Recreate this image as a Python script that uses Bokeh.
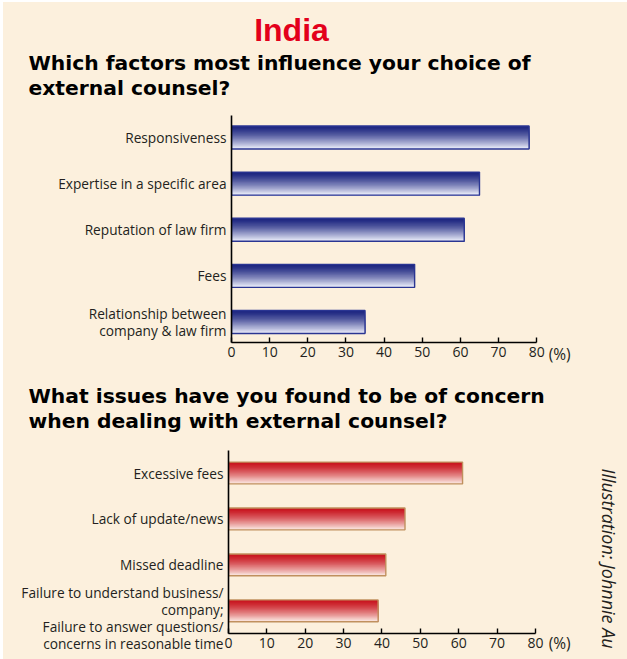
import math
from bokeh.plotting import figure
from bokeh.models import ColumnDataSource, Label, FixedTicker, Range1d, LinearAxis
from bokeh.layouts import column, row
from bokeh.embed import file_html
from bokeh.resources import INLINE

# ---------------- data ----------------
title_main = "India"
q1_lines = ["Which factors most influence your choice of", "external counsel?"]
factors1 = ["Responsiveness", "Expertise in a specific area", "Reputation of law firm",
            "Fees", "Relationship between\ncompany & law firm"]
values1 = [78, 65, 61, 48, 35]

q2_lines = ["What issues have you found to be of concern", "when dealing with external counsel?"]
factors2 = ["Excessive fees", "Lack of update/news", "Missed deadline",
            "Failure to understand business/\ncompany;\nFailure to answer questions/\nconcerns in reasonable time"]
values2 = [61, 46, 41, 39]

x_ticks = [0, 10, 20, 30, 40, 50, 60, 70, 80]
unit_label = "(%)"
credit = "Illustration: Johnnie Au"

# ---------------- style ----------------
BG = "#fcf0dd"
TXT = "#231f20"
LABEL_FONT = "Open Sans"
TITLE_FONT = "DejaVu Sans"


def interp(c1, c2, t):
    a = [int(c1[i:i + 2], 16) for i in (1, 3, 5)]
    b = [int(c2[i:i + 2], 16) for i in (1, 3, 5)]
    return "#%02x%02x%02x" % tuple(int(round(a[j] + (b[j] - a[j]) * t)) for j in range(3))


def text_fig(w, h):
    p = figure(width=w, height=h, x_range=Range1d(0, w), y_range=Range1d(0, h),
               output_backend="svg", toolbar_location=None, x_axis_type=None, y_axis_type=None,
               min_border=0, background_fill_color=None, border_fill_color=None,
               outline_line_color=None, frame_align=False)
    p.grid.visible = False
    return p


def make_fig(width, height, left, right, top, bottom, ystart, yend, factors, last_label_shift,
             unit_x, unit_standoff):
    p = figure(width=width, height=height, x_range=Range1d(0, 92), y_range=Range1d(ystart, yend),
               output_backend="svg", toolbar_location=None,
               min_border_left=left, min_border_right=right,
               min_border_top=top, min_border_bottom=bottom,
               background_fill_color=None, border_fill_color=None, outline_line_color=None,
               frame_align=False)
    p.grid.visible = False
    xa = p.xaxis[0]
    xa.bounds = (0, 80)
    xa.ticker = FixedTicker(ticks=x_ticks)
    xa.major_tick_in = 5
    xa.major_tick_out = 0
    xa.minor_tick_line_color = None
    xa.axis_line_width = 1.6
    xa.major_tick_line_width = 1.4
    xa.axis_line_color = "black"
    xa.major_tick_line_color = "black"
    xa.major_label_text_font = LABEL_FONT
    xa.major_label_text_font_size = "14px"
    xa.major_label_text_color = TXT
    xa.major_label_standoff = 4

    # "(%)" unit label as a second, line-less axis
    ua = LinearAxis(ticker=FixedTicker(ticks=[unit_x]), major_label_overrides={unit_x: unit_label},
                    axis_line_color=None, major_tick_line_color=None, minor_tick_line_color=None,
                    major_label_text_font=LABEL_FONT, major_label_text_font_size="15.5px",
                    major_label_text_color=TXT, major_label_standoff=unit_standoff)
    p.add_layout(ua, "below")

    n = len(factors)
    ticks = [float(n - 1 - i) for i in range(n)]
    ticks[-1] = ticks[-1] + last_label_shift
    ya = p.yaxis[0]
    ya.ticker = FixedTicker(ticks=ticks)
    ya.major_label_overrides = {t: f for t, f in zip(ticks, factors)}
    ya.major_tick_in = 0
    ya.major_tick_out = 0
    ya.minor_tick_line_color = None
    ya.axis_line_width = 1.6
    ya.axis_line_color = "black"
    ya.major_label_text_font = LABEL_FONT
    ya.major_label_text_font_size = "13.7px"
    ya.major_label_text_color = TXT
    ya.major_label_text_line_height = 0.9
    ya.major_label_standoff = 5
    return p


def add_bars(p, values, bar_h, c_top, c_bot, edge):
    n = len(values)
    N = 30
    ys, hs, rights, cols = [], [], [], []
    for i, v in enumerate(values):
        pos = n - 1 - i
        top = pos + bar_h / 2
        bot = pos - bar_h / 2
        for k in range(N):
            t = top - k * bar_h / N
            ys.append((t + bot) / 2)
            hs.append(t - bot)
            rights.append(v)
            cols.append(interp(c_top, c_bot, (k / (N - 1)) ** 1.35))
    src = ColumnDataSource(dict(y=ys, h=hs, right=rights, color=cols))
    p.hbar(y="y", right="right", left=0, height="h", source=src,
           fill_color="color", line_color=None)
    src2 = ColumnDataSource(dict(y=[n - 1 - i for i in range(n)], right=values))
    p.hbar(y="y", right="right", left=0, height=bar_h, source=src2,
           fill_alpha=0, line_color=edge, line_width=1.4)


def lab(p, x, y, text, **kw):
    p.add_layout(Label(x=x, y=y, text=text, **kw))


# ---------------- header 1 ----------------
h1 = text_fig(624, 108)
lab(h1, 288, 81, title_main, text_align="center", text_baseline="middle",
    text_font="Liberation Sans", text_font_style="bold", text_font_size="32px", text_color="#e3001b")
for line, yy in zip(q1_lines, [48, 23]):
    lab(h1, 25, yy, line, text_align="left", text_baseline="middle",
        text_font=TITLE_FONT, text_font_style="bold", text_font_size="20.3px", text_color="black")

# ---------------- chart 1 ----------------
p1 = make_fig(624, 262, 228, 45, 5, 30, -0.445, 4.477, factors1, 0.0, 86.0, -23)
add_bars(p1, values1, 0.5, "#1d2680", "#eef0fb", "#2a3592")

# ---------------- header 2 ----------------
h2 = text_fig(624, 73)
for line, yy in zip(q2_lines, [50, 25]):
    lab(h2, 25, yy, line, text_align="left", text_baseline="middle",
        text_font=TITLE_FONT, text_font_style="bold", text_font_size="20.3px", text_color="black")

# ---------------- chart 2 ----------------
p2 = make_fig(590, 214, 225, 12, 5, 26, -0.494, 3.49, factors2, -0.15, 86.3, -25)
add_bars(p2, values2, 0.475, "#c8141e", "#fbeae3", "#c0905e")

cred = text_fig(34, 214)
lab(cred, 15, 191, credit, angle=-math.pi / 2, text_align="left", text_baseline="middle",
    text_font=LABEL_FONT, text_font_style="italic", text_font_size="18px", text_color=TXT)

layout = column(h1, p1, h2, row(p2, cred, spacing=0), spacing=0, margin=(2, 0, 0, 3),
                styles={"background-color": BG})
open("out.html", "w").write(file_html(layout, INLINE))
